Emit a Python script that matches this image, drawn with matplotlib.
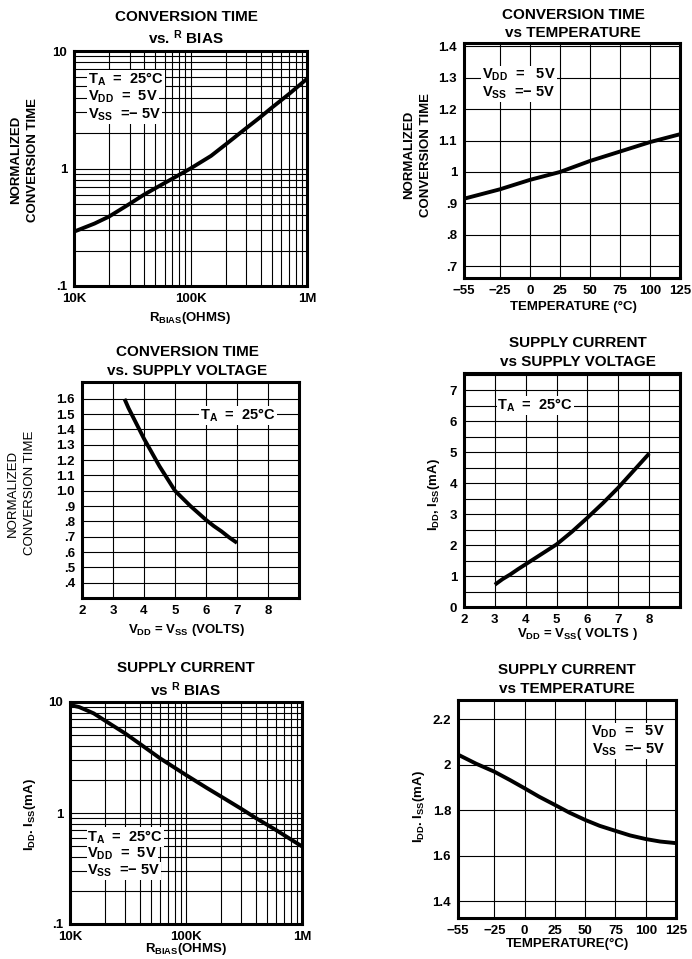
import matplotlib
matplotlib.use("Agg")
import matplotlib.pyplot as plt
from matplotlib.ticker import LogLocator, NullFormatter, FixedLocator

plt.rcParams.update({
    "font.family": ["Liberation Sans", "DejaVu Sans"],
    "font.weight": "bold",
    "mathtext.fontset": "custom",
    "mathtext.rm": "Liberation Sans:bold",
    "mathtext.it": "Liberation Sans:bold",
    "mathtext.bf": "Liberation Sans:bold",
})

# ---------------- data ----------------
# Panel 1: conversion time vs R_BIAS
rbias_ct = [10e3, 15e3, 20e3, 30e3, 40e3, 50e3, 70e3, 100e3, 150e3, 200e3,
            300e3, 400e3, 500e3, 700e3, 1e6]
ct_vs_rbias = [0.29, 0.34, 0.39, 0.50, 0.60, 0.68, 0.82, 1.00, 1.28, 1.60,
               2.20, 2.75, 3.30, 4.30, 5.80]

# Panel 2: conversion time vs temperature
temp_ct = [-55, -25, 0, 25, 50, 75, 100, 125]
ct_vs_temp = [0.915, 0.945, 0.975, 1.00, 1.035, 1.065, 1.095, 1.12]

# Panel 3: conversion time vs supply voltage
volt_ct = [3.37, 3.5, 3.75, 4.0, 4.25, 4.5, 4.75, 5.0, 5.25, 5.5, 5.75, 6.0,
           6.25, 6.5, 6.75, 7.0]
ct_vs_volt = [1.60, 1.54, 1.44, 1.34, 1.25, 1.16, 1.08, 1.00, 0.95, 0.90,
              0.855, 0.81, 0.77, 0.735, 0.695, 0.66]

# Panel 4: supply current vs supply voltage
volt_i = [3, 3.25, 3.5, 3.75, 4, 4.5, 5, 5.5, 6, 6.5, 7, 7.5, 8]
i_vs_volt = [0.72, 0.90, 1.05, 1.22, 1.38, 1.70, 2.02, 2.43, 2.88, 3.35, 3.85,
             4.40, 4.95]

# Panel 5: supply current vs R_BIAS
rbias_i = [10e3, 12e3, 14e3, 16e3, 20e3, 30e3, 40e3, 60e3, 100e3, 150e3,
           200e3, 300e3, 400e3, 600e3, 1e6]
i_vs_rbias = [9.4, 9.0, 8.4, 7.9, 6.8, 5.2, 4.2, 3.1, 2.2, 1.69, 1.41, 1.09,
              0.90, 0.70, 0.50]

# Panel 6: supply current vs temperature
temp_i = [-55, -40, -25, -12, 0, 12, 25, 37, 50, 62, 75, 87, 100, 112, 125]
i_vs_temp = [2.045, 2.005, 1.97, 1.933, 1.897, 1.86, 1.824, 1.79, 1.758, 1.732,
             1.71, 1.69, 1.674, 1.663, 1.656]

temp_ticks = [-55, -25, 0, 25, 50, 75, 100, 125]
temp_labels = ["\u221255", "\u221225", "0", "25", "50", "75", "100", "125"]
log_xticks = [1e4, 1e5, 1e6]
log_xlabels = ["10K", "100K", "1M"]
log_yticks = [0.1, 1, 10]
log_ylabels = [".1", "1", "10"]

# ---------------- layout ----------------
W, H = 692, 959
fig = plt.figure(figsize=(W / 100, H / 100), dpi=100)
fig.patch.set_facecolor("white")

TITLE = 11
LAB = 9.5
NOTE = 10.5


def ax_at(l, t, r, b):
    ax = fig.add_axes([l / W, 1 - b / H, (r - l) / W, (b - t) / H])
    for s in ax.spines.values():
        s.set_linewidth(2.2)
        s.set_color("black")
    ax.tick_params(which="both", length=0, pad=5, labelsize=9.5)
    return ax


def ftext(x, y, s, size=TITLE, **kw):
    fig.text(x / W, 1 - y / H, s, ha="center", va="center", fontsize=size,
             fontweight="bold", **kw)


def style_ticks(ax):
    for lab in ax.get_xticklabels() + ax.get_yticklabels():
        lab.set_fontweight("bold")


GRID = dict(color="black", linewidth=0.8)
CURVE = dict(color="black", linewidth=2.8, solid_capstyle="butt",
             solid_joinstyle="round")
BOX = dict(facecolor="white", edgecolor="none", pad=0.6)


def note(ax, x, y, s, ha="left", transform=None):
    ax.text(x, y, s, transform=transform or ax.transAxes, fontsize=NOTE,
            fontweight="bold", va="center", ha=ha, bbox=BOX)


def log_panel(ax):
    ax.set_xscale("log")
    ax.set_yscale("log")
    ax.set_xlim(1e4, 1e6)
    ax.set_ylim(0.1, 10)
    ax.xaxis.set_major_locator(FixedLocator(log_xticks))
    ax.set_xticklabels(log_xlabels)
    ax.yaxis.set_major_locator(FixedLocator(log_yticks))
    ax.set_yticklabels(log_ylabels)
    ax.xaxis.set_minor_locator(LogLocator(base=10, subs=range(2, 10)))
    ax.yaxis.set_minor_locator(LogLocator(base=10, subs=range(2, 10)))
    ax.xaxis.set_minor_formatter(NullFormatter())
    ax.yaxis.set_minor_formatter(NullFormatter())
    ax.grid(which="both", **GRID)
    ax.set_axisbelow(True)
    style_ticks(ax)


# ---- Panel 1 ----
ax1 = ax_at(74, 51, 307, 286)
log_panel(ax1)
ax1.plot(rbias_ct, ct_vs_rbias, **CURVE)
note(ax1, 0.06, 0.88, r"T$_\mathrm{A}$  =  25°C")
note(ax1, 0.06, 0.805, r"V$_\mathrm{DD}$  =  5V")
note(ax1, 0.06, 0.728, r"V$_\mathrm{SS}$  =$-$ 5V")
ftext(186, 17, "CONVERSION TIME")
ftext(186, 38, r"vs. $^{\mathrm{R}}$ BIAS")
ftext(190, 318, r"R$_\mathrm{BIAS}$(OHMS)", size=LAB)
ftext(16, 160, "NORMALIZED", size=LAB, rotation=90)
ftext(33, 160, "CONVERSION TIME", size=LAB, rotation=90)

# ---- Panel 2 ----
ax2 = ax_at(464, 43, 680, 278)
ax2.set_xlim(-55, 125)
ax2.set_ylim(0.663, 1.41)
ax2.set_xticks(temp_ticks)
ax2.set_xticklabels(temp_labels)
ax2.set_yticks([0.7, 0.8, 0.9, 1.0, 1.1, 1.2, 1.3, 1.4])
ax2.set_yticklabels([".7", ".8", ".9", "1", "1.1", "1.2", "1.3", "1.4"])
ax2.grid(which="major", **GRID)
ax2.set_axisbelow(True)
style_ticks(ax2)
ax2.plot(temp_ct, ct_vs_temp, **CURVE)
note(ax2, 0.085, 0.865, r"V$_\mathrm{DD}$  =   5V")
note(ax2, 0.085, 0.787, r"V$_\mathrm{SS}$  =$-$ 5V")
ftext(573, 15, "CONVERSION TIME")
ftext(573, 33, "vs TEMPERATURE")
ftext(573, 307, "TEMPERATURE (°C)", size=LAB)
ftext(409, 155, "NORMALIZED", size=LAB, rotation=90)
ftext(426, 155, "CONVERSION TIME", size=LAB, rotation=90)

# ---- Panel 3 ----
ax3 = ax_at(82, 382, 299, 598)
ax3.set_xlim(2, 9)
ax3.set_ylim(0.3, 1.71)
ax3.set_xticks([2, 3, 4, 5, 6, 7, 8])
ax3.set_xticklabels(["2", "3", "4", "5", "6", "7", "8"])
ax3.set_yticks([0.4, 0.5, 0.6, 0.7, 0.8, 0.9, 1.0, 1.1, 1.2, 1.3, 1.4, 1.5, 1.6])
ax3.set_yticklabels([".4", ".5", ".6", ".7", ".8", ".9", "1.0", "1.1", "1.2",
                     "1.3", "1.4", "1.5", "1.6"])
ax3.grid(which="major", **GRID)
ax3.set_axisbelow(True)
style_ticks(ax3)
ax3.plot(volt_ct, ct_vs_volt, **CURVE)
note(ax3, 0.545, 0.846, r"T$_\mathrm{A}$  =  25°C")
ftext(187, 352, "CONVERSION TIME")
ftext(187, 371, "vs. SUPPLY VOLTAGE")
ftext(187, 630, r"V$_\mathrm{DD}$ = V$_\mathrm{SS}$ (VOLTS)", size=LAB)
fig.text(13 / W, 1 - 493 / H, "NORMALIZED", rotation=90, ha="center", va="center",
         fontsize=LAB, fontweight="normal")
fig.text(30 / W, 1 - 493 / H, "CONVERSION TIME", rotation=90, ha="center",
         va="center", fontsize=LAB, fontweight="normal")

# ---- Panel 4 ----
ax4 = ax_at(464, 373, 680, 607)
ax4.set_xlim(2, 9)
ax4.set_ylim(0, 7.55)
ax4.set_xticks([2, 3, 4, 5, 6, 7, 8])
ax4.set_xticklabels(["2", "3", "4", "5", "6", "7", "8"])
ax4.set_yticks([0, 1, 2, 3, 4, 5, 6, 7])
ax4.set_yticklabels(["0", "1", "2", "3", "4", "5", "6", "7"])
ax4.yaxis.set_minor_locator(FixedLocator([0.5, 1.5, 2.5, 3.5, 4.5, 5.5, 6.5, 7.5]))
ax4.grid(which="both", **GRID)
ax4.set_axisbelow(True)
style_ticks(ax4)
ax4.plot(volt_i, i_vs_volt, **CURVE)
note(ax4, 0.155, 6.5, r"T$_\mathrm{A}$  =  25°C", transform=ax4.get_yaxis_transform())
ftext(578, 343, "SUPPLY CURRENT")
ftext(578, 362, "vs SUPPLY VOLTAGE")
ftext(578, 634, r"V$_\mathrm{DD}$ = V$_\mathrm{SS}$( VOLTS )", size=LAB)
ftext(434, 495, r"I$_\mathrm{DD}$, I$_\mathrm{SS}$(mA)", size=LAB, rotation=90)

# ---- Panel 5 ----
ax5 = ax_at(70, 702, 302, 924)
log_panel(ax5)
ax5.plot(rbias_i, i_vs_rbias, **CURVE)
note(ax5, 0.075, 0.392, r"T$_\mathrm{A}$  =  25°C")
note(ax5, 0.075, 0.314, r"V$_\mathrm{DD}$  =  5V")
note(ax5, 0.075, 0.24, r"V$_\mathrm{SS}$  =$-$ 5V")
ftext(186, 668, "SUPPLY CURRENT")
ftext(186, 690, r"vs $^{\mathrm{R}}$ BIAS")
ftext(186, 949, r"R$_\mathrm{BIAS}$(OHMS)", size=LAB)
ftext(30, 815, r"I$_\mathrm{DD}$. I$_\mathrm{SS}$(mA)", size=LAB, rotation=90)

# ---- Panel 6 ----
ax6 = ax_at(458, 700, 676, 918)
ax6.set_xlim(-55, 125)
ax6.set_ylim(1.327, 2.285)
ax6.set_xticks(temp_ticks)
ax6.set_xticklabels(temp_labels)
ax6.set_yticks([1.4, 1.6, 1.8, 2.0, 2.2])
ax6.set_yticklabels(["1.4", "1.6", "1.8", "2", "2.2"])
ax6.grid(which="major", **GRID)
ax6.set_axisbelow(True)
style_ticks(ax6)
ax6.plot(temp_i, i_vs_temp, **CURVE)
note(ax6, 0.95, 0.855, r"V$_\mathrm{DD}$  =   5V", ha="right")
note(ax6, 0.95, 0.771, r"V$_\mathrm{SS}$  =$-$ 5V", ha="right")
ftext(567, 670, "SUPPLY CURRENT")
ftext(567, 689, "vs TEMPERATURE")
ftext(567, 944, "TEMPERATURE(°C)", size=LAB)
ftext(419, 807, r"I$_\mathrm{DD}$. I$_\mathrm{SS}$(mA)", size=LAB, rotation=90)

fig.savefig("out.png", dpi=100, facecolor="white")
